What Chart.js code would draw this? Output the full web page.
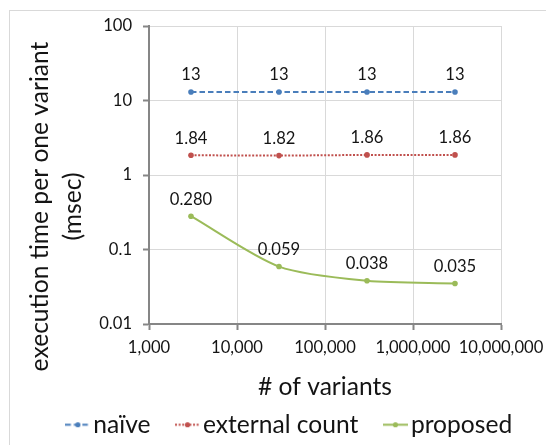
<!DOCTYPE html>
<html>
<head>
<meta charset="utf-8">
<script src="https://cdn.jsdelivr.net/npm/chart.js@4/dist/chart.umd.min.js"></script>
<style>
  html, body { margin: 0; padding: 0; background: #ffffff; }
  #wrap { width: 546px; height: 445px; position: relative; }
</style>
</head>
<body>
<div id="wrap"><canvas id="c" width="546" height="445"></canvas></div>
<script>
// ---- data ----
const xValues = [3000, 30000, 300000, 3000000];
const naiveValues = [13, 13, 13, 13];
const externalValues = [1.84, 1.82, 1.86, 1.86];
const proposedValues = [0.280, 0.059, 0.038, 0.035];
const naiveLabels = ['13', '13', '13', '13'];
const externalLabels = ['1.84', '1.82', '1.86', '1.86'];
const proposedLabels = ['0.280', '0.059', '0.038', '0.035'];
const seriesNames = ['naïve', 'external count', 'proposed'];
const xTickValues = [1000, 10000, 100000, 1000000, 10000000];
const xTickLabels = ['1,000', '10,000', '100,000', '1,000,000', '10,000,000'];
const yTickValues = [0.01, 0.1, 1, 10, 100];
const yTickLabels = ['0.01', '0.1', '1', '10', '100'];
const xTitle = '# of variants';
const yTitle = ['execution time per one variant', '(msec)'];

// ---- styles ----
const FONT = 'Lato';
const TEXT = '#141414';
const TITLE_SIZE = 24.6;
const TICK_SIZE = 16.6;
const colors = ['#4A7EBB', '#C0504D', '#9BBB59'];
const dashes = [[5.5, 3], [2, 1.6], []];
const valueLabels = [naiveLabels, externalLabels, proposedLabels];
const seriesValues = [naiveValues, externalValues, proposedValues];

function legendSample(color, dash) {
  const c = document.createElement('canvas');
  c.width = 25; c.height = 9;
  const g = c.getContext('2d');
  g.strokeStyle = color; g.lineWidth = 2; g.setLineDash(dash);
  g.beginPath(); g.moveTo(0, 4.5); g.lineTo(25, 4.5); g.stroke();
  g.fillStyle = color; g.beginPath(); g.arc(12.5, 4.5, 2.6, 0, Math.PI * 2); g.fill();
  return c;
}

const frame = {
  id: 'frame',
  beforeDraw(chart) {
    const ctx = chart.ctx;
    ctx.save();
    ctx.fillStyle = '#ffffff';
    ctx.fillRect(0, 0, chart.width, chart.height);
    ctx.strokeStyle = '#d9d9d9';
    ctx.lineWidth = 1;
    ctx.strokeRect(9.5, 10.5, 700, 700);
    ctx.restore();
  }
};

const dataLabels = {
  id: 'dataLabels',
  afterDatasetsDraw(chart) {
    const ctx = chart.ctx;
    ctx.save();
    ctx.font = TICK_SIZE + 'px ' + FONT;
    ctx.fillStyle = TEXT;
    ctx.textAlign = 'center';
    ctx.textBaseline = 'middle';
    chart.data.datasets.forEach((ds, i) => {
      const meta = chart.getDatasetMeta(i);
      meta.data.forEach((pt, j) => {
        ctx.fillText(valueLabels[i][j], pt.x, pt.y - 17);
      });
    });
    ctx.restore();
  }
};

const datasets = seriesNames.map((name, i) => ({
  label: name,
  data: xValues.map((x, j) => ({ x: x, y: seriesValues[i][j] })),
  borderColor: colors[i],
  backgroundColor: colors[i],
  borderWidth: 2,
  borderDash: dashes[i],
  pointRadius: 2.8,
  pointBorderWidth: 0,
  pointBackgroundColor: colors[i],
  tension: i === 2 ? 0.27 : 0,
  fill: false
}));

new Chart(document.getElementById('c'), {
  type: 'line',
  data: { datasets },
  plugins: [frame, dataLabels],
  options: {
    responsive: false,
    animation: false,
    devicePixelRatio: 1,
    layout: { padding: { left: 0, right: 0, top: 26, bottom: -2 } },
    plugins: {
      tooltip: { enabled: false },
      legend: {
        position: 'bottom',
        align: 'end',
        labels: {
          usePointStyle: true,
          pointStyleWidth: 6.4,
          padding: 33.8,
          color: TEXT,
          font: { family: FONT, size: TITLE_SIZE },
          generateLabels(chart) {
            return chart.data.datasets.map((ds, i) => ({
              text: ds.label,
              pointStyle: legendSample(colors[i], dashes[i]),
              datasetIndex: i,
              hidden: false,
              fontColor: TEXT
            }));
          }
        }
      }
    },
    scales: {
      x: {
        type: 'logarithmic',
        min: xTickValues[0],
        max: xTickValues[xTickValues.length - 1],
        afterBuildTicks(scale) { scale.ticks = xTickValues.map(v => ({ value: v, major: true })); },
        afterFit(scale) { scale.height = 54.6; scale.paddingLeft = 0; scale.paddingRight = 0; },
        ticks: {
          autoSkip: false,
          maxRotation: 0,
          padding: 8,
          color: TEXT,
          font: { family: FONT, size: TICK_SIZE },
          callback(value, index) { return xTickLabels[index]; }
        },
        grid: { color: '#d9d9d9', lineWidth: 1, tickLength: 6, tickColor: '#868686', tickWidth: 2 },
        border: { color: '#868686', width: 2 },
        title: {
          display: true,
          text: xTitle,
          color: TEXT,
          font: { family: FONT, size: TITLE_SIZE, lineHeight: 1.2 },
          padding: { top: 0, bottom: -22.9 }
        }
      },
      y: {
        type: 'logarithmic',
        min: yTickValues[0],
        max: yTickValues[yTickValues.length - 1],
        afterBuildTicks(scale) { scale.ticks = yTickValues.map(v => ({ value: v, major: true })); },
        afterFit(scale) { scale.width = 149; },
        ticks: {
          autoSkip: false,
          padding: 11,
          color: TEXT,
          font: { family: FONT, size: TICK_SIZE },
          callback(value, index) { return yTickLabels[index]; }
        },
        grid: { color: '#d9d9d9', lineWidth: 1, tickLength: 6, tickColor: '#868686', tickWidth: 2 },
        border: { color: '#868686', width: 2 },
        title: {
          display: true,
          text: yTitle.map(t => t + '          '),
          color: TEXT,
          font: { family: FONT, size: TITLE_SIZE, lineHeight: 1.34 },
          padding: { top: 23.5, bottom: 0 }
        }
      },
      rightSpace: {
        type: 'linear',
        position: 'right',
        display: true,
        afterFit(scale) { scale.width = 45; },
        ticks: { display: false },
        grid: { display: false, drawOnChartArea: false, drawTicks: false },
        border: { display: false },
        title: { display: false }
      }
    }
  }
});
</script>
</body>
</html>
